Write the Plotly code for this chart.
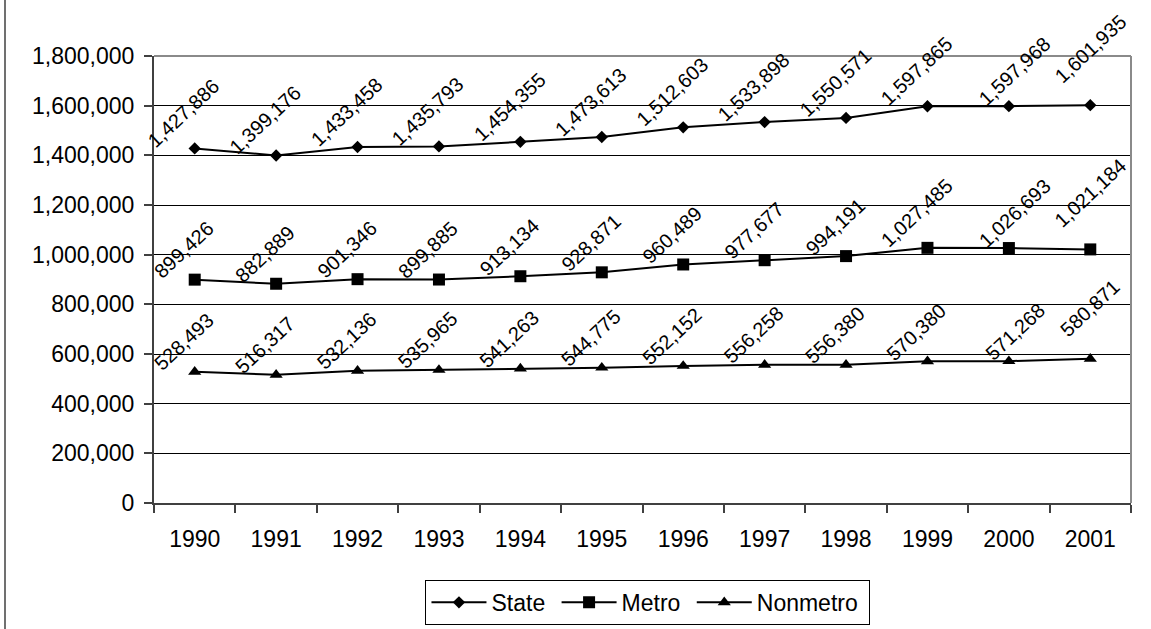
import plotly.graph_objects as go

years = ["1990", "1991", "1992", "1993", "1994", "1995", "1996", "1997", "1998", "1999", "2000", "2001"]
state = [1427886, 1399176, 1433458, 1435793, 1454355, 1473613, 1512603, 1533898, 1550571, 1597865, 1597968, 1601935]
metro = [899426, 882889, 901346, 899885, 913134, 928871, 960489, 977677, 994191, 1027485, 1026693, 1021184]
nonmetro = [528493, 516317, 532136, 535965, 541263, 544775, 552152, 556258, 556380, 570380, 571268, 580871]

series_names = ["State", "Metro", "Nonmetro"]
series_values = [state, metro, nonmetro]
symbols = ["diamond", "square", "triangle-up"]
sizes = [9.5, 12, 11.5]

FONT = "Liberation Sans, Arial, sans-serif"

n = len(years)
xidx = list(range(n))

fig = go.Figure()
for name, vals, sym, sz in zip(series_names, series_values, symbols, sizes):
    fig.add_trace(go.Scatter(
        x=xidx, y=vals, name=name + "\u00a0", mode="lines+markers",
        line=dict(color="black", width=2),
        marker=dict(symbol=sym, size=sz, color="black", line=dict(width=0)),
    ))

for vals in series_values:
    for i, v in enumerate(vals):
        xs, ys = -11, -6
        if i == n - 2:
            xs = 6
        if i == n - 1:
            xs, ys = 0, 15
        fig.add_annotation(
            x=i, y=v, text=f"{v:,}", textangle=-43, showarrow=False,
            xanchor="center", yanchor="bottom", xshift=xs, yshift=ys,
            font=dict(size=20, color="black", family=FONT),
        )

fig.update_layout(
    width=1151, height=629,
    margin=dict(l=154, r=20, t=56, b=126, autoexpand=False),
    paper_bgcolor="white", plot_bgcolor="white",
    font=dict(family=FONT, color="black"),
    showlegend=True,
    legend=dict(
        orientation="h", x=0.5056, xanchor="center", y=-0.172, yanchor="top",
        bordercolor="black", borderwidth=1, font=dict(size=23, family=FONT),
        itemwidth=55, tracegroupgap=0,
    ),
    xaxis=dict(
        type="linear", tickmode="array", tickvals=xidx, ticktext=years,
        ticks="", showline=True, linecolor="#404040", linewidth=2,
        showgrid=False, zeroline=False,
        tickfont=dict(size=23, family=FONT, color="black"),
        ticklabelstandoff=14,
        range=[-0.5, n - 0.5],
        minor=dict(tickmode="array", tickvals=[i - 0.5 for i in range(n + 1)],
                   ticks="outside", ticklen=8, tickcolor="#404040", tickwidth=1.5,
                   showgrid=False),
        automargin=False,
    ),
    yaxis=dict(
        range=[0, 1800000], dtick=200000, tickformat=",d",
        ticks="outside", ticklen=8, tickcolor="#404040", tickwidth=1.5,
        showline=True, linecolor="#404040", linewidth=2,
        showgrid=True, gridcolor="black", gridwidth=1, zeroline=False,
        tickfont=dict(size=23, family=FONT, color="black"),
        ticklabelstandoff=5,
        automargin=False,
    ),
)

# plot area border (top and right, gray)
fig.add_shape(type="line", xref="paper", yref="paper", x0=0, x1=1, y0=1, y1=1,
              line=dict(color="#8a8a8a", width=2))
fig.add_shape(type="line", xref="paper", yref="paper", x0=1, x1=1, y0=0, y1=1,
              line=dict(color="#8a8a8a", width=2))
# chart area frame (left edge)
fig.add_shape(type="line", xref="paper", yref="paper", xsizemode="pixel", ysizemode="pixel",
              xanchor=0, yanchor=0, x0=-149, x1=-149, y0=-130, y1=510,
              line=dict(color="#404040", width=1.5))

fig.write_html("out.html", config={"displayModeBar": False},
               post_script="document.body.style.margin='0px';")
